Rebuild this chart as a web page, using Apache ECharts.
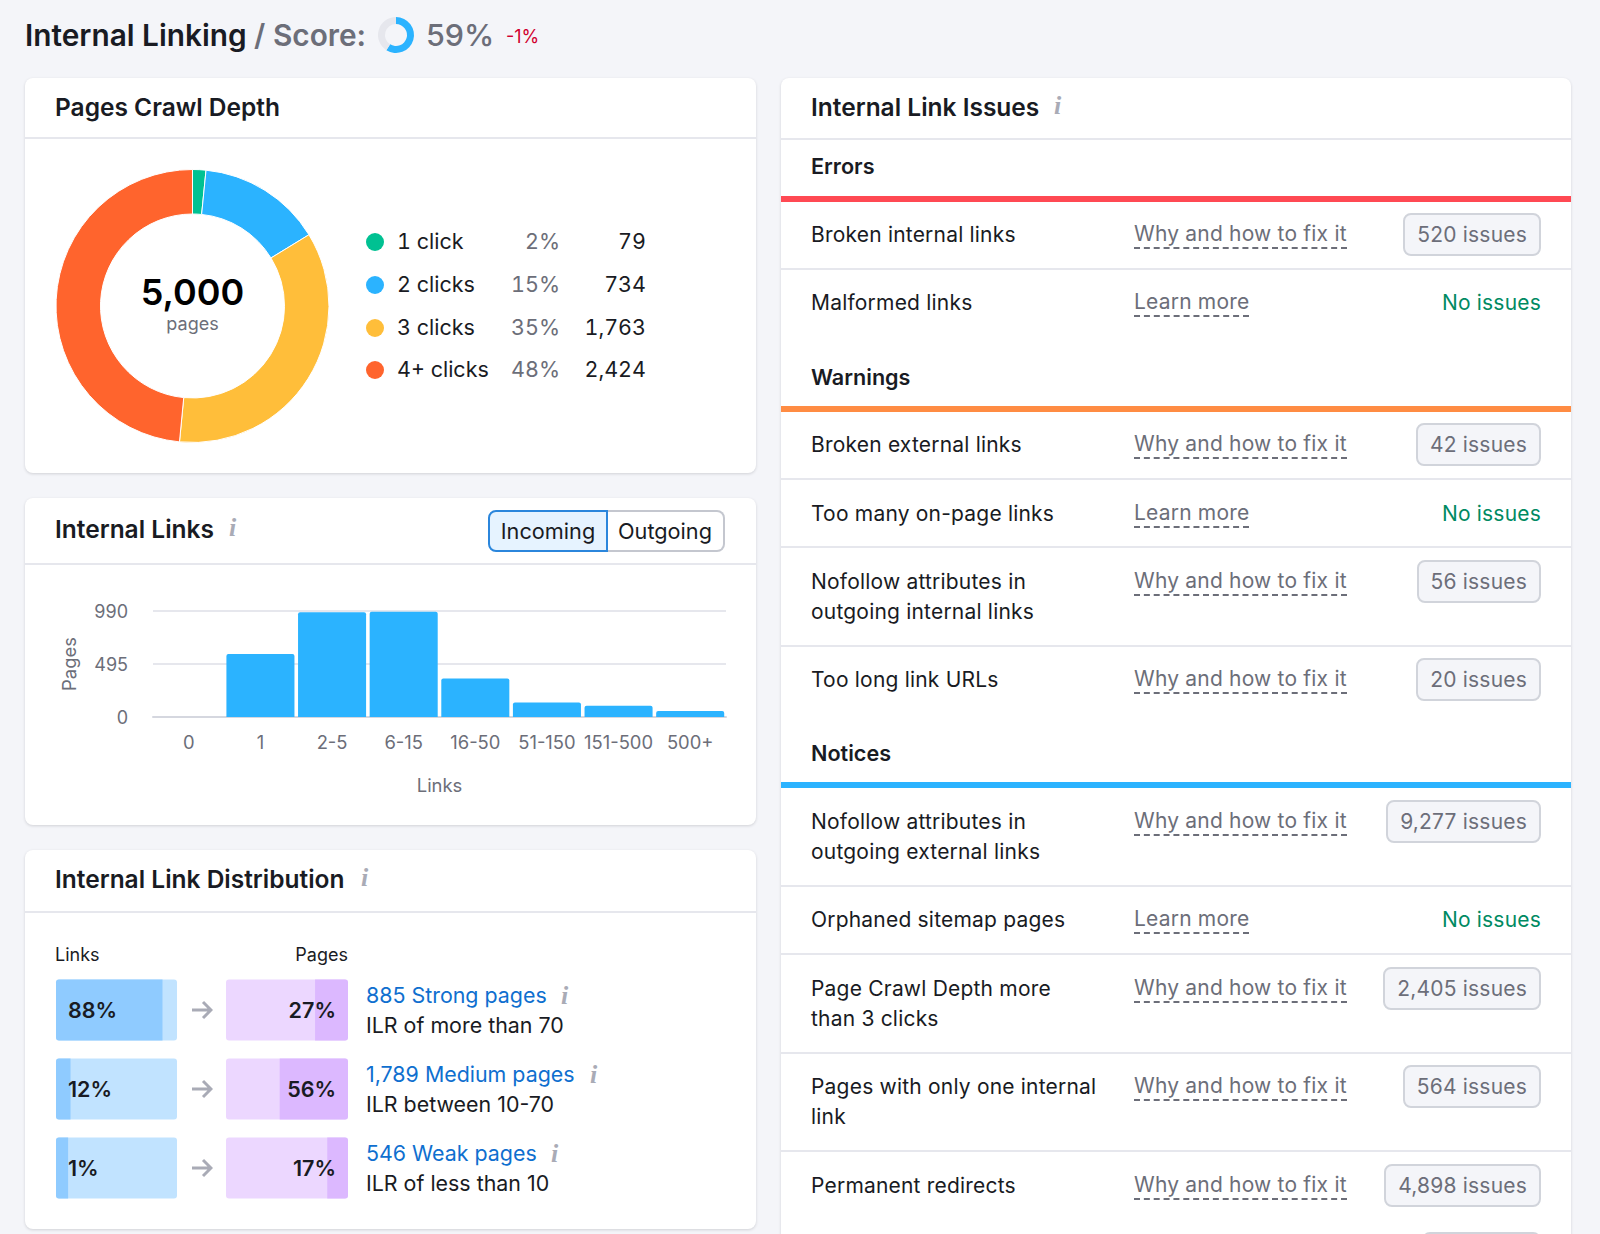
<!DOCTYPE html>
<html lang="en">

<head>
    <meta charset="UTF-8">
    <title>Internal Linking</title>
    <script src="https://cdn.jsdelivr.net/npm/echarts@6/dist/echarts.min.js"></script>
    <style>
        html, body {
            margin: 0;
            width: 1600px;
            height: 1234px;
            overflow: hidden;
            background: #f4f5f9;
            font-family: Inter, sans-serif;
            color: #191b23;
        }

        #main {
            position: absolute;
            left: 0;
            top: 0;
            width: 1600px;
            height: 1234px;
            z-index: 2;
            pointer-events: none;
        }

        .card {
            position: absolute;
            background: #fff;
            border-radius: 8px;
            box-shadow: 0 1px 3px rgba(25, 27, 35, .16);
        }

        .rule {
            position: absolute;
            left: 0;
            right: 0;
            height: 2px;
            background: #e6e7ed;
        }

        .t {
            position: absolute;
            transform: translateY(-50%);
            white-space: nowrap;
            line-height: 1.2;
            z-index: 3;
        }

        .title {
            font-size: 24.5px;
            font-weight: 600;
        }

        .info {
            font-family: "Liberation Serif", serif;
            font-style: italic;
            font-weight: 700;
            font-size: 26px;
            color: #a9abb6;
        }

        .grey {
            color: #6c6e79;
        }

        .dot {
            position: absolute;
            width: 18px;
            height: 18px;
            border-radius: 50%;
            transform: translateY(-50%);
        }

        .legend {
            font-size: 21.5px;
            font-feature-settings: "tnum";
        }

        .btn {
            position: absolute;
            top: 510px;
            height: 42px;
            box-sizing: border-box;
            font-size: 21.7px;
            line-height: 39px;
            text-align: center;
        }

        .small {
            font-size: 18px;
        }

        .tier {
            font-size: 21.4px;
        }

        .tier.link {
            color: #0f6fcf;
        }

        .arrow {
            position: absolute;
            left: 191px;
            width: 22px;
            height: 20px;
        }

        #issues {
            position: absolute;
            left: 0;
            right: 0;
        }

        .head {
            position: relative;
            box-sizing: border-box;
            border-bottom: 6px solid;
            font-size: 21.6px;
            font-weight: 600;
        }

        .head span {
            position: absolute;
            left: 30px;
            transform: translateY(-50%);
        }

        .row {
            position: relative;
            box-sizing: border-box;
            border-bottom: 2px solid #e6e7ed;
            height: 68.2px;
            font-size: 21px;
            letter-spacing: .2px;
        }

        .row.tall {
            height: 98.5px;
        }

        .row.last {
            border-bottom: 0;
        }

        .name {
            position: absolute;
            left: 30px;
            top: 18.5px;
            width: 300px;
            line-height: 30px;
        }

        .how {
            position: absolute;
            left: 353px;
            top: 18.5px;
            line-height: 27px;
            color: #6c6e79;
            border-bottom: 2px dashed #6c6e79;
        }

        .badge {
            position: absolute;
            right: 30px;
            top: 11.5px;
            height: 43px;
            box-sizing: border-box;
            line-height: 39px;
            padding: 0 12px;
            color: #6c6e79;
            background: #f4f5f9;
            border: 2px solid #d1d4db;
            border-radius: 8px;
        }

        .ok {
            position: absolute;
            right: 30px;
            top: 18.5px;
            line-height: 30px;
            color: #008a62;
        }
    </style>
</head>

<body>
    <div class="t" style="left:25px;top:35.5px;font-size:29.8px;font-weight:600">Internal Linking <span class="grey">/ Score:</span></div>
    <div class="t grey" style="left:426px;top:35px;font-size:30.5px;font-weight:500">59%</div>
    <div class="t" style="left:506px;top:37px;font-size:18px;color:#d1002f">-1%</div>

    <div class="card" style="left:25px;top:78px;width:731px;height:395px">
        <div class="rule" style="top:59px"></div>
    </div>
    <div class="t title" style="left:55px;top:108px">Pages Crawl Depth</div>
    <div id="legend"></div>

    <div class="card" style="left:25px;top:498px;width:731px;height:327px">
        <div class="rule" style="top:65px"></div>
    </div>
    <div class="t title" style="left:55px;top:529.5px">Internal Links</div>
    <div class="t info" style="left:229px;top:528px">i</div>
    <div class="btn" style="left:488px;width:120px;background:#e6f3ff;border:2px solid #2b86dc;border-radius:8px 0 0 8px;z-index:3">Incoming</div>
    <div class="btn" style="left:607px;width:118px;border:2px solid #c4c7cf;border-left:0;border-radius:0 8px 8px 0;z-index:2">Outgoing</div>

    <div class="card" style="left:25px;top:850px;width:731px;height:379px">
        <div class="rule" style="top:61px"></div>
    </div>
    <div class="t title" style="left:55px;top:879.5px">Internal Link Distribution</div>
    <div class="t info" style="left:361px;top:878px">i</div>
    <div class="t small" style="left:55px;top:955px">Links</div>
    <div class="t small" style="right:1252px;top:955px">Pages</div>
    <div id="tiers"></div>

    <div class="card" style="left:781px;top:78px;width:790px;height:1200px">
        <div class="t title" style="left:30px;top:30px">Internal Link Issues</div>
        <div class="t info" style="left:273px;top:28px">i</div>
        <div class="rule" style="top:60px"></div>
        <div id="issues" style="top:61px"></div>
    </div>

    <div id="main"></div>

    <script>
        // crawl depth
        let depthNames = ['1 click', '2 clicks', '3 clicks', '4+ clicks'];
        let depthShares = ['2%', '15%', '35%', '48%'];
        let depthPages = [79, 734, 1763, 2424];
        let depthColors = ['#00c192', '#2bb3ff', '#ffbe3a', '#ff642d'];
        let depthTotal = '5,000';

        // score ring
        let score = 59;

        // internal links histogram
        let linkBuckets = ['0', '1', '2-5', '6-15', '16-50', '51-150', '151-500', '500+'];
        let linkPages = [0, 588, 978, 984, 359, 136, 105, 56];

        // link distribution (first one is what the bar shows, the labels are what it says)
        let tierNames = ['885 Strong pages', '1,789 Medium pages', '546 Weak pages'];
        let tierNotes = ['ILR of more than 70', 'ILR between 10-70', 'ILR of less than 10'];
        let tierLinkBars = [88, 12, 10];
        let tierLinkLabels = ['88%', '12%', '1%'];
        let tierPageBars = [27, 56, 17];
        let tierPageLabels = ['27%', '56%', '17%'];

        // issues table
        let errorIssues = ['Broken internal links', 'Malformed links'];
        let errorCounts = ['520', null];
        let warningIssues = ['Broken external links', 'Too many on-page links', 'Nofollow attributes in<br>outgoing internal links', 'Too long link URLs'];
        let warningCounts = ['42', null, '56', '20'];
        let noticeIssues = ['Nofollow attributes in<br>outgoing external links', 'Orphaned sitemap pages', 'Page Crawl Depth more<br>than 3 clicks', 'Pages with only one internal<br>link', 'Permanent redirects'];
        let noticeCounts = ['9,277', null, '2,405', '564', '4,898'];

        let legendHtml = '';
        let legendTops = [242, 285, 328, 370];
        depthNames.forEach((name, i) => {
            legendHtml += `<div class="dot" style="left:366px;top:${legendTops[i]}px;background:${depthColors[i]}"></div>`
                + `<div class="t legend" style="left:397px;top:${legendTops[i]}px">${name}</div>`
                + `<div class="t legend grey" style="right:1040px;top:${legendTops[i]}px">${depthShares[i]}</div>`
                + `<div class="t legend" style="right:954px;top:${legendTops[i]}px">${depthPages[i].toLocaleString('en-US')}</div>`;
        });
        document.getElementById('legend').innerHTML = legendHtml;

        let tierHtml = '';
        let tierTops = [995.7, 1074.7, 1153.7];
        let tierInfo = [561, 590, 551];
        tierNames.forEach((name, i) => {
            tierHtml += `<div class="t tier link" style="left:366px;top:${tierTops[i]}px">${name}</div>`
                + `<div class="t info" style="left:${tierInfo[i]}px;top:${tierTops[i]}px">i</div>`
                + `<div class="t tier" style="left:366px;top:${tierTops[i] + 30.5}px">${tierNotes[i]}</div>`
                + `<svg class="arrow" style="top:${Math.round(tierTops[i]) + 4}px;z-index:3" viewBox="0 0 22 20"><path d="M1 10H20M12 2l8 8-8 8" fill="none" stroke="#a9abb6" stroke-width="3"/></svg>`;
        });
        document.getElementById('tiers').innerHTML = tierHtml;

        function issueRows(names, counts) {
            return names.map((name, i) => {
                let fix = counts[i] ? 'Why and how to fix it' : 'Learn more';
                let status = counts[i]
                    ? `<div class="badge">${counts[i]} issues</div>`
                    : '<div class="ok">No issues</div>';
                let tall = name.includes('<br>') ? ' tall' : '';
                let last = i === names.length - 1 ? ' last' : '';
                return `<div class="row${tall}${last}"><div class="name">${name}</div><div class="how">${fix}</div>${status}</div>`;
            }).join('');
        }

        function issueHead(name, color, height, textTop) {
            return `<div class="head" style="height:${height}px;border-color:${color}"><span style="top:${textTop}px">${name}</span></div>`;
        }

        document.getElementById('issues').innerHTML =
            issueHead('Errors', '#ff4953', 62.5, 27) + issueRows(errorIssues, errorCounts)
            + issueHead('Warnings', '#ff8c43', 74, 39) + issueRows(warningIssues, warningCounts)
            + issueHead('Notices', '#2bb3ff', 73.5, 38.5) + issueRows(noticeIssues, noticeCounts)
            + '<div class="row last"><div class="badge" style="width:119px"></div></div>';

        let myChart = echarts.init(document.getElementById('main'), null, { renderer: 'svg' });

        let axisText = { color: '#6c6e79', fontSize: 18.4, fontFamily: 'Inter' };
        let barText = { show: true, color: '#191b23', fontSize: 21.5, fontWeight: 600, fontFamily: 'Inter', padding: [0, 0, 2, 0] };

        option = {
            animation: false,
            backgroundColor: 'transparent',
            title: [
                {
                    text: depthTotal,
                    left: 192.5,
                    top: 274,
                    textAlign: 'center',
                    padding: 0,
                    textStyle: { fontSize: 36, fontWeight: 600, color: '#000', fontFamily: 'Inter' }
                },
                {
                    text: 'pages',
                    left: 192.5,
                    top: 314,
                    textAlign: 'center',
                    padding: 0,
                    textStyle: { fontSize: 18, fontWeight: 400, color: '#6c6e79', fontFamily: 'Inter' }
                }
            ],
            grid: [
                { left: 153, top: 611, width: 573, height: 106 },
                { left: 56, top: 970.5, width: 121, height: 237 },
                { left: 226, top: 970.5, width: 122, height: 237 }
            ],
            xAxis: [
                {
                    gridIndex: 0,
                    type: 'category',
                    data: linkBuckets,
                    name: 'Links',
                    nameLocation: 'middle',
                    nameGap: 59,
                    nameTextStyle: axisText,
                    axisTick: { show: false },
                    axisLine: { lineStyle: { color: '#d5d7df', width: 2 } },
                    axisLabel: Object.assign({ margin: 16, interval: 0 }, axisText)
                },
                { gridIndex: 1, type: 'value', min: 0, max: 100, show: false },
                { gridIndex: 2, type: 'value', min: 0, max: 100, show: false, inverse: true }
            ],
            yAxis: [
                {
                    gridIndex: 0,
                    type: 'value',
                    min: 0,
                    max: 990,
                    interval: 495,
                    name: 'Pages',
                    nameLocation: 'middle',
                    nameGap: 75,
                    nameTextStyle: axisText,
                    splitLine: { lineStyle: { color: '#e6e7ed', width: 2 } },
                    axisLabel: { margin: 25, color: '#6c6e79', fontSize: 18, fontFamily: 'Inter' }
                },
                { gridIndex: 1, type: 'category', data: tierNames, inverse: true, show: false },
                { gridIndex: 2, type: 'category', data: tierNames, inverse: true, show: false }
            ],
            series: [
                {
                    type: 'pie',
                    center: [396, 35],
                    radius: [11, 18],
                    startAngle: 90,
                    silent: true,
                    label: { show: false },
                    data: [
                        { value: score, itemStyle: { color: '#2bb3ff' } },
                        { value: 100 - score, itemStyle: { color: '#e6e7ed' } }
                    ]
                },
                {
                    type: 'pie',
                    center: [192.5, 306],
                    radius: [92, 136.5],
                    startAngle: 90,
                    silent: true,
                    itemStyle: { borderColor: '#fff', borderWidth: 1 },
                    label: { show: false },
                    data: depthPages.map((value, i) => ({
                        value,
                        name: depthNames[i],
                        itemStyle: { color: depthColors[i] }
                    }))
                },
                {
                    type: 'bar',
                    xAxisIndex: 0,
                    yAxisIndex: 0,
                    data: linkPages,
                    barCategoryGap: '5%',
                    itemStyle: { color: '#2bb3ff', borderRadius: [2, 2, 0, 0] }
                },
                {
                    type: 'bar',
                    xAxisIndex: 1,
                    yAxisIndex: 1,
                    data: tierLinkBars,
                    barWidth: 61,
                    showBackground: true,
                    backgroundStyle: { color: '#c1e3ff', borderRadius: 3 },
                    itemStyle: { color: '#8fcbff', borderRadius: [3, 0, 0, 3] },
                    label: Object.assign({
                        position: 'insideLeft',
                        distance: 12,
                        formatter: p => tierLinkLabels[p.dataIndex]
                    }, barText)
                },
                {
                    type: 'bar',
                    xAxisIndex: 2,
                    yAxisIndex: 2,
                    data: tierPageBars,
                    barWidth: 61,
                    showBackground: true,
                    backgroundStyle: { color: '#ecd7ff', borderRadius: 3 },
                    itemStyle: { color: '#dcb8ff', borderRadius: [0, 3, 3, 0] },
                    label: Object.assign({
                        position: 'insideRight',
                        distance: 12,
                        formatter: p => tierPageLabels[p.dataIndex]
                    }, barText)
                }
            ]
        };

        myChart.setOption(option);
    </script>

</body>

</html>
